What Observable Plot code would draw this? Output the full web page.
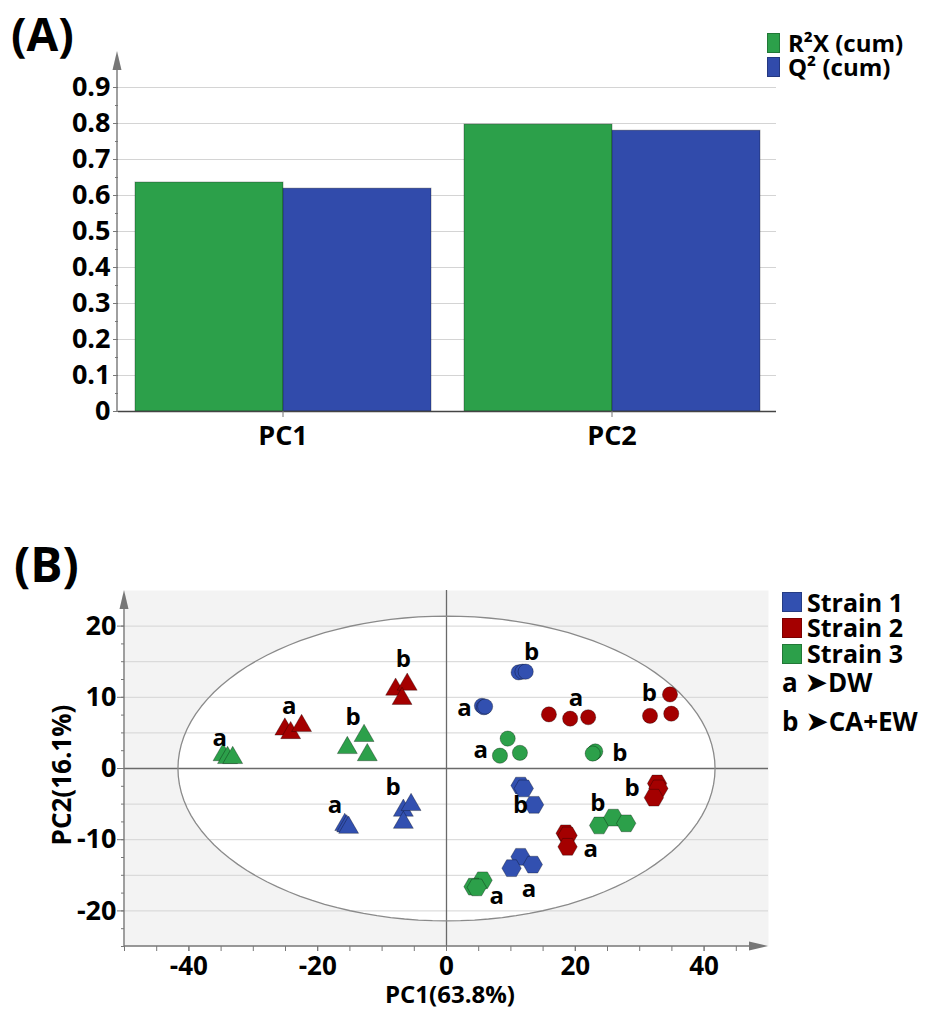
<!DOCTYPE html>
<html>
<head>
<meta charset="utf-8">
<script src="https://cdn.jsdelivr.net/npm/d3@7"></script>
<script src="https://cdn.jsdelivr.net/npm/@observablehq/plot@0.6"></script>
<style>
  html, body { margin: 0; padding: 0; background: #fff; }
  #wrap { position: relative; width: 927px; height: 1011px; overflow: hidden; font-family: "Open Sans", sans-serif; font-weight: 700; color: #000; }
  .panel { position: absolute; left: 0; }
  .txt { position: absolute; white-space: nowrap; font-weight: 700; }
  .sw { position: absolute; }
</style>
</head>
<body>
<div id="wrap">
  <div class="panel" id="panelA" style="top:0"></div>
  <div class="panel" id="panelB" style="top:500px"></div>
</div>
<script>
// ---------------- Data: panel (A) model summary ----------------
const components = ["PC1", "PC2"];
const r2xCum = [0.636, 0.797];
const q2Cum = [0.619, 0.780];
const seriesKeys = ["R2X", "Q2"];
const seriesLabels = ["R²X (cum)", "Q² (cum)"];
const seriesColors = ["#2ca04a", "#314bab"];
const yTicksA = [0, 0.1, 0.2, 0.3, 0.4, 0.5, 0.6, 0.7, 0.8, 0.9];
const yMinorA = [0.05, 0.15, 0.25, 0.35, 0.45, 0.55, 0.65, 0.75, 0.85, 0.95];

// ---------------- Data: panel (B) score plot ----------------
const strainNames = ["Strain 1", "Strain 2", "Strain 3"];
const strainColors = ["#3250b0", "#a40000", "#2ca04a"];
const treatmentKey = ["a", "b"];
const treatmentNames = ["DW", "CA+EW"];
// one entry per cluster of three replicates
const clusterMarker = ["triangle","triangle","triangle","triangle","triangle","triangle",
                       "circle","circle","circle","circle","circle","circle",
                       "hexagon","hexagon","hexagon","hexagon","hexagon","hexagon"];
const clusterStrain = ["Strain 3","Strain 2","Strain 3","Strain 2","Strain 1","Strain 1",
                       "Strain 1","Strain 1","Strain 2","Strain 2","Strain 3","Strain 3",
                       "Strain 1","Strain 2","Strain 3","Strain 2","Strain 1","Strain 3"];
const clusterTreatment = ["a","a","b","b","a","b",
                          "b","a","a","b","a","b",
                          "b","b","b","a","a","a"];
const scorePC1 = [-34.7,-34.0,-33.2,  -25.1,-24.2,-22.5,  -15.4,-12.8,-12.3,  -7.9,-6.1,-6.9,
                  -15.8,-15.5,-15.2,  -6.7,-5.5,-6.7,
                  11.2,11.8,12.3,  5.5,5.8,6.0,  15.9,19.2,22.0,  34.7,31.6,34.9,
                  9.5,8.3,11.4,  22.9,23.1,22.7,
                  11.5,12.0,13.6,  32.7,32.9,32.2,  23.7,25.9,27.9,  18.5,18.8,18.8,
                  11.5,13.4,10.1,  5.6,4.2,4.7];
const scorePC2 = [1.9,1.5,1.5,  5.5,5.0,6.0,  2.9,4.6,1.9,  11.1,11.8,9.8,
                  -7.9,-8.1,-8.3,  -5.9,-5.1,-7.6,
                  13.5,13.6,13.6,  8.8,8.6,8.7,  7.6,7.0,7.2,  10.4,7.4,7.7,
                  4.2,1.8,2.2,  2.2,2.4,2.1,
                  -2.4,-2.8,-5.1,  -2.1,-2.8,-4.1,  -8.0,-6.9,-7.7,  -9.1,-9.4,-11.0,
                  -12.4,-13.5,-14.0,  -15.7,-16.6,-16.7];
// treatment letters placed next to the clusters
const labelText = ["a","a","b","b","a","b","b","a","a","b","a","b","b","b","b","a","a","a"];
const labelPC1 = [-35.2,-24.4,-14.5,-6.7,-17.3,-8.3, 13.2,2.8,20.1,31.5,5.3,26.9, 11.5,28.8,23.5,22.4,12.8,7.8];
const labelPC2 = [4.2,8.7,7.2,15.4,-5.2,-2.7, 16.3,8.4,9.8,10.5,2.5,2.1, -5.2,-2.8,-4.9,-11.4,-17.0,-18.0];
const ellipseSemiAxes = [41.7, 21.4]; // Hotelling T2 ellipse
const xTicksB = [-40, -20, 0, 20, 40];
const xMinorB = [-50,-45,-40,-35,-30,-25,-20,-15,-10,-5,0,5,10,15,20,25,30,35,40,45];
const yTicksB = [-20, -10, 0, 10, 20];
const yMinorB = [-25,-22.5,-20,-17.5,-15,-12.5,-10,-7.5,-5,-2.5,0,2.5,5,7.5,10,12.5,15,17.5,20,22.5];
const yGridB = [-20, -15, -10, -5, 5, 10, 15, 20];

// ---------------- Build tables ----------------
const barData = components.flatMap((pc, i) => [
  {pc, series: "R2X", value: r2xCum[i]},
  {pc, series: "Q2", value: q2Cum[i]}
]);
const scores = scorePC1.map((v, i) => {
  const c = Math.floor(i / 3);
  return {pc1: v, pc2: scorePC2[i], strain: clusterStrain[c], marker: clusterMarker[c], treatment: clusterTreatment[c]};
});
const labels = labelText.map((t, i) => ({text: t, pc1: labelPC1[i], pc2: labelPC2[i]}));
const ellipse = d3.range(0, 361, 3).map(a => ({
  x: ellipseSemiAxes[0] * Math.cos(a * Math.PI / 180),
  y: ellipseSemiAxes[1] * Math.sin(a * Math.PI / 180)
}));

const baseStyle = {fontFamily: "'Open Sans', sans-serif", fontWeight: 700, fontSize: "26px", color: "#000", background: "transparent", overflow: "visible"};

// ---------------- Panel A ----------------
const chartA = Plot.plot({
  width: 927, height: 460,
  marginLeft: 117, marginRight: 151, marginTop: 51, marginBottom: 49,
  style: baseStyle,
  fx: {domain: components, paddingInner: 0, paddingOuter: 0, label: null},
  x: {domain: seriesKeys, paddingInner: 0, paddingOuter: 0.111, axis: null},
  y: {domain: [0, 1]},
  color: {domain: seriesKeys, range: seriesColors},
  marks: [
    Plot.gridY(yTicksA.slice(1), {stroke: "#d4d4d4", strokeOpacity: 1}),
    Plot.barY(barData, {fx: "pc", x: "series", y: "value", fill: "series", stroke: "#000", strokeOpacity: 0.3, strokeWidth: 1}),
    Plot.ruleY([0], {stroke: "#444", strokeWidth: 1.3}),
    Plot.axisY(yMinorA, {tickSize: 3, tickFormat: () => "", stroke: "#777", label: null}),
    Plot.axisY(yTicksA, {tickSize: 5, tickPadding: 3, tickFormat: d => String(d), fontSize: 27, stroke: "#777", fill: "#000", label: null}),
    Plot.axisFx({anchor: "bottom", tickSize: 6, tickPadding: 8, fontSize: 27, stroke: "#777", fill: "#000", label: null})
  ]
});
document.getElementById("panelA").appendChild(chartA);

// ---------------- Panel B ----------------
const chartB = Plot.plot({
  width: 927, height: 511,
  marginLeft: 124, marginRight: 159, marginTop: 90, marginBottom: 65,
  style: baseStyle,
  x: {domain: [-50, 50]},
  y: {domain: [-25, 25]},
  color: {domain: strainNames, range: strainColors},
  marks: [
    Plot.frame({fill: "#f3f3f3", stroke: null}),
    Plot.line(ellipse, {x: "x", y: "y", fill: "#fff", stroke: "none"}),
    Plot.gridY(yGridB, {stroke: "#d4d4d4", strokeOpacity: 1}),
    Plot.ruleY([0], {stroke: "#6a6a6a", strokeWidth: 1.3}),
    Plot.ruleX([0], {stroke: "#6a6a6a", strokeWidth: 1.3}),
    Plot.line(ellipse, {x: "x", y: "y", stroke: "#8a8a8a", strokeWidth: 1.3}),
    Plot.axisY(yMinorB, {tickSize: 3, tickFormat: () => "", stroke: "#777", label: null}),
    Plot.axisY(yTicksB, {tickSize: 7, tickPadding: 1, tickFormat: d => String(d), fontSize: 27, stroke: "#777", fill: "#000", label: null}),
    Plot.axisX(xMinorB, {tickSize: 5, tickFormat: () => "", stroke: "#777", label: null}),
    Plot.axisX(xTicksB, {tickSize: 5, tickPadding: 5, tickFormat: d => String(d), fontSize: 26, stroke: "#777", fill: "#000", label: null}),
    Plot.dot(scores.filter(d => d.marker === "triangle"), {x: "pc1", y: "pc2", symbol: "triangle", r: 7.4, fill: "strain", stroke: "#000", strokeOpacity: 0.3, strokeWidth: 1}),
    Plot.dot(scores.filter(d => d.marker === "circle"), {x: "pc1", y: "pc2", symbol: "circle", r: 7.6, fill: "strain", stroke: "#000", strokeOpacity: 0.3, strokeWidth: 1}),
    Plot.dot(scores.filter(d => d.marker === "hexagon"), {x: "pc1", y: "pc2", symbol: "hexagon", r: 8.4, rotate: 90, fill: "strain", stroke: "#000", strokeOpacity: 0.3, strokeWidth: 1}),
    Plot.text(labels, {x: "pc1", y: "pc2", text: "text", fontSize: 24, fontWeight: 700, fill: "#000"})
  ]
});
document.getElementById("panelB").appendChild(chartB);

// ---------------- Axis lines with arrow heads ----------------
function vArrow(svg, x, yBottom, yTop) {
  const s = d3.select(svg);
  s.append("line").attr("x1", x).attr("x2", x).attr("y1", yBottom).attr("y2", yTop + 10)
    .attr("stroke", "#777").attr("stroke-width", 1.4);
  s.append("path").attr("d", `M${x},${yTop} L${x - 4.5},${yTop + 19} L${x + 4.5},${yTop + 19} Z`).attr("fill", "#777");
}
function hArrow(svg, y, xLeft, xRight) {
  const s = d3.select(svg);
  s.append("line").attr("x1", xLeft).attr("x2", xRight - 10).attr("y1", y).attr("y2", y)
    .attr("stroke", "#777").attr("stroke-width", 1.4);
  s.append("path").attr("d", `M${xRight},${y} L${xRight - 19},${y - 4.5} L${xRight - 19},${y + 4.5} Z`).attr("fill", "#777");
}
{
  const ya = chartA.scale("y");
  const fxr = chartA.scale("fx").range;
  vArrow(chartA, fxr[0], ya.apply(0), ya.apply(1));
  const xb = chartB.scale("x"), yb = chartB.scale("y");
  vArrow(chartB, xb.apply(-50), yb.apply(-25), yb.apply(25));
  hArrow(chartB, yb.apply(-25), xb.apply(-50), xb.apply(50));
}

// ---------------- Titles, legends, axis titles (HTML text) ----------------
const wrap = document.getElementById("wrap");
// places a text block so that its first baseline sits at `baseline` (Open Sans metrics)
function addText(html, left, baseline, size, lineH, extra) {
  const L = lineH || size;
  const d = document.createElement("div");
  d.className = "txt";
  d.style.fontSize = size + "px";
  d.style.lineHeight = L + "px";
  d.style.left = left + "px";
  d.style.top = (baseline - ((L - 1.362 * size) / 2 + 1.069 * size)) + "px";
  if (extra) Object.assign(d.style, extra);
  d.innerHTML = html;
  wrap.appendChild(d);
  return d;
}
function addSwatch(color, left, top, w, h) {
  const d = document.createElement("div");
  d.className = "sw";
  Object.assign(d.style, {left: left + "px", top: top + "px", width: w + "px", height: h + "px", background: color, boxShadow: "inset 0 0 0 1px rgba(0,0,0,0.25)"});
  wrap.appendChild(d);
}
addText("(A)", 11, 51, 46);
addText("(B)", 14, 583, 48);

// legend A (one text block, one line per series)
seriesColors.forEach((c, i) => addSwatch(c, 767, 33 + i * 24, 13, 20));
addText(seriesLabels.join("<br>"), 788, 52, 24, 24);

// legend B
strainColors.forEach((c, i) => addSwatch(c, 782, 592 + i * 26, 20, 20));
addText(strainNames.join("<br>"), 807, 612, 25, 25.5);
const arrowGlyph = "<span style=\"font-family:'DejaVu Sans';font-size:28px\">➤</span>";
addText(treatmentKey.map((k, i) => `${k} ${arrowGlyph}${treatmentNames[i]}`).join("<br>"), 782, 692, 26, 38);

// axis titles
addText("PC1(63.8%)", 450, 1003, 24, 24, {transform: "translateX(-50%)"});
addText("PC2(16.1%)", 61, 776 + 9, 26, 26, {transform: "translate(-50%, 0) rotate(-90deg)", transformOrigin: "50% 50%"});
</script>
</body>
</html>
